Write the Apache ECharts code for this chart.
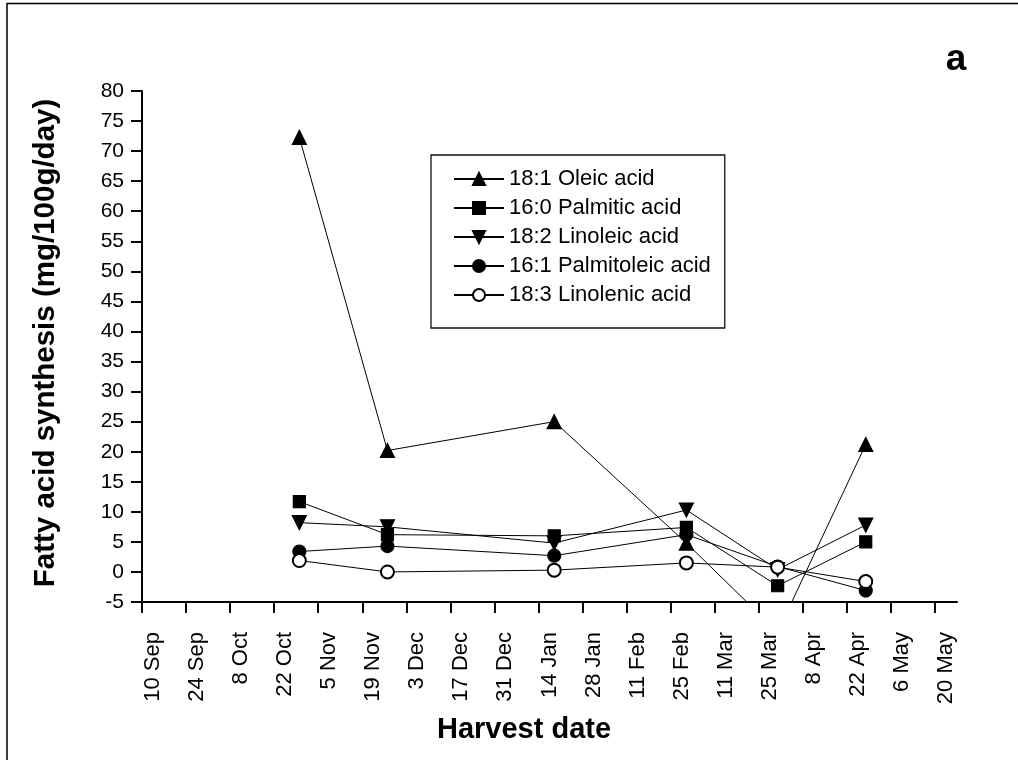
<!DOCTYPE html>
<html>
<head>
<meta charset="utf-8">
<title>Fatty acid synthesis</title>
<script src="https://cdn.jsdelivr.net/npm/echarts@6.0.0/dist/echarts.min.js"></script>
<style>
  html, body { margin: 0; padding: 0; background: #fff; }
  #main { width: 1018px; height: 760px; }
</style>
</head>
<body>
<div id="main"></div>
<script>
// harvest dates, as days after 10 Sep
var harvestDays = [50, 78, 131, 173, 202, 230];

// mg/100g/day
var oleic = [72.3, 20.2, 25.0, 4.8, -10.0, 21.2];
var palmitic = [11.7, 6.2, 6.0, 7.4, -2.3, 5.0];
var linoleic = [8.2, 7.5, 4.8, 10.3, 0.4, 7.8];
var palmitoleic = [3.4, 4.3, 2.7, 6.2, 0.9, -3.1];
var linolenic = [1.9, 0.0, 0.3, 1.5, 0.8, -1.6];

var tickLabels = ['10 Sep', '24 Sep', '8 Oct', '22 Oct', '5 Nov', '19 Nov', '3 Dec', '17 Dec',
  '31 Dec', '14 Jan', '28 Jan', '11 Feb', '25 Feb', '11 Mar', '25 Mar', '8 Apr', '22 Apr',
  '6 May', '20 May'];

var seriesNames = ['18:1 Oleic acid', '16:0 Palmitic acid', '18:2 Linoleic acid',
  '16:1 Palmitoleic acid', '18:3 Linolenic acid'];

var FONT = 'Liberation Sans, Arial, sans-serif';
var tickDays = tickLabels.map(function (l, i) { return i * 14; });

function pairs(vals) {
  return vals.map(function (v, i) { return [harvestDays[i], v]; });
}

function makeSeries(name, vals, symbol, size) {
  return {
    name: name,
    type: 'line',
    data: pairs(vals),
    symbol: symbol,
    symbolSize: size,
    clip: true,
    color: '#000',
    lineStyle: { color: '#000', width: 1 },
    itemStyle: { color: '#000', borderColor: '#000', borderWidth: 1.2 },
    emphasis: { disabled: true },
    animation: false
  };
}

var chart = echarts.init(document.getElementById('main'));
chart.setOption({
  backgroundColor: '#fff',
  animation: false,
  grid: { left: 142, right: 61, top: 91, bottom: 158, containLabel: false },
  legend: {
    orient: 'vertical',
    left: 431,
    top: 155,
    padding: [13, 14, 22, 22],
    borderColor: '#111',
    borderWidth: 1.3,
    itemWidth: 50,
    itemHeight: 15,
    itemGap: 7,
    data: seriesNames,
    textStyle: { color: '#000', fontSize: 22, fontFamily: FONT, lineHeight: 21 }
  },
  xAxis: {
    type: 'value',
    min: 0,
    max: 259,
    interval: 14,
    axisLine: { onZero: false, lineStyle: { color: '#000', width: 2 } },
    axisTick: { show: true, length: 11, customValues: tickDays, lineStyle: { color: '#000', width: 2 } },
    axisLabel: {
      customValues: tickDays,
      rotate: 90,
      margin: 30,
      verticalAlign: 'top',
      color: '#000',
      fontSize: 22,
      fontFamily: FONT,
      formatter: function (v) { return tickLabels[Math.round(v / 14)]; }
    },
    splitLine: { show: false }
  },
  yAxis: {
    type: 'value',
    min: -5,
    max: 80,
    interval: 5,
    axisLine: { show: true, lineStyle: { color: '#000', width: 2 } },
    axisTick: { show: true, length: 11, lineStyle: { color: '#000', width: 2 } },
    axisLabel: { margin: 18, color: '#000', fontSize: 21, fontFamily: FONT },
    splitLine: { show: false }
  },
  graphic: [
    {
      type: 'rect',
      shape: { x: 7, y: 3.5, width: 1200, height: 900 },
      style: { fill: 'none', stroke: '#000', lineWidth: 1.5 },
      silent: true
    },
    {
      type: 'text',
      x: 524, y: 730,
      style: { text: 'Harvest date', font: 'bold 29px ' + FONT, fill: '#000', align: 'center', verticalAlign: 'middle' }
    },
    {
      type: 'text',
      x: 46, y: 343,
      rotation: Math.PI / 2,
      style: { text: 'Fatty acid synthesis (mg/100g/day)', font: 'bold 29.5px ' + FONT, fill: '#000', align: 'center', verticalAlign: 'middle' }
    },
    {
      type: 'text',
      x: 956, y: 60,
      style: { text: 'a', font: 'bold 37px ' + FONT, fill: '#000', align: 'center', verticalAlign: 'middle' }
    }
  ],
  series: [
    makeSeries(seriesNames[0], oleic, 'triangle', 14),
    makeSeries(seriesNames[1], palmitic, 'rect', 12),
    makeSeries(seriesNames[2], linoleic, 'path://M0,0 L10,0 L5,9 Z', 14),
    makeSeries(seriesNames[3], palmitoleic, 'circle', 13),
    makeSeries(seriesNames[4], linolenic, 'emptyCircle', 13)
  ]
});
</script>
</body>
</html>
